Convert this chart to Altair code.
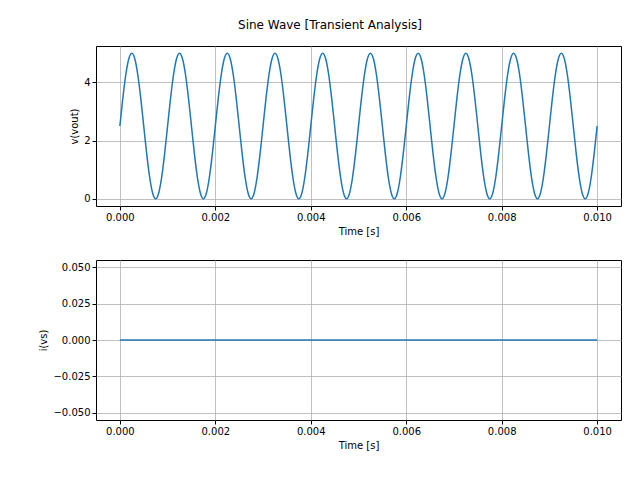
import altair as alt
import pandas as pd

period_vals = [2.5, 3.46, 4.27, 4.81, 5.0, 4.81, 4.27, 3.46,
               2.5, 1.54, 0.73, 0.19, 0.0, 0.19, 0.73, 1.54]
n_periods = 10
step = 0.001 / 16

time = [i * step for i in range(16 * n_periods + 1)]
vout = period_vals * n_periods + [2.5]
i_time = [0.0, 0.01]
i_vs = [0.0, 0.0]

df_v = pd.DataFrame({"t": time, "v": vout})
df_i = pd.DataFrame({"t": i_time, "i": i_vs})

xticks = [0, 0.002, 0.004, 0.006, 0.008, 0.010]
xscale = alt.Scale(domain=[-0.0005, 0.0105], nice=False, zero=False)
xaxis = alt.Axis(values=xticks, format=".3f", title="Time [s]")

top = alt.Chart(df_v).mark_line(color="#1f77b4", strokeWidth=1.5, interpolate="monotone").encode(
    x=alt.X("t:Q", scale=xscale, axis=xaxis),
    y=alt.Y("v:Q", scale=alt.Scale(domain=[-0.25, 5.25], nice=False),
            axis=alt.Axis(values=[0, 2, 4], format="d", title="v(vout)")),
).properties(width=525, height=160)

bottom = alt.Chart(df_i).mark_line(color="#1f77b4", strokeWidth=1.5).encode(
    x=alt.X("t:Q", scale=xscale, axis=xaxis),
    y=alt.Y("i:Q", scale=alt.Scale(domain=[-0.055, 0.055], nice=False),
            axis=alt.Axis(values=[-0.05, -0.025, 0, 0.025, 0.05], format=".3f", title="i(vs)")),
).properties(width=525, height=160)

chart = alt.vconcat(top, bottom, spacing=22).properties(
    title=alt.TitleParams("Sine Wave [Transient Analysis]", anchor="middle", fontSize=12,
                          fontWeight=400, font="DejaVu Sans", offset=14),
    padding={"left": 30, "top": 10, "right": 10, "bottom": 5},
    background="white",
).configure_view(stroke="black", strokeWidth=1).configure_axis(
    grid=True, gridColor="#b0b0b0", gridWidth=0.8, domain=False,
    tickColor="black", tickSize=4, labelFont="DejaVu Sans", labelFontSize=10,
    labelColor="black", titleFont="DejaVu Sans", titleFontSize=10,
    titleFontWeight=400, titleColor="black",
)

chart.save("out.html", embed_options={"renderer": "svg", "actions": False})
